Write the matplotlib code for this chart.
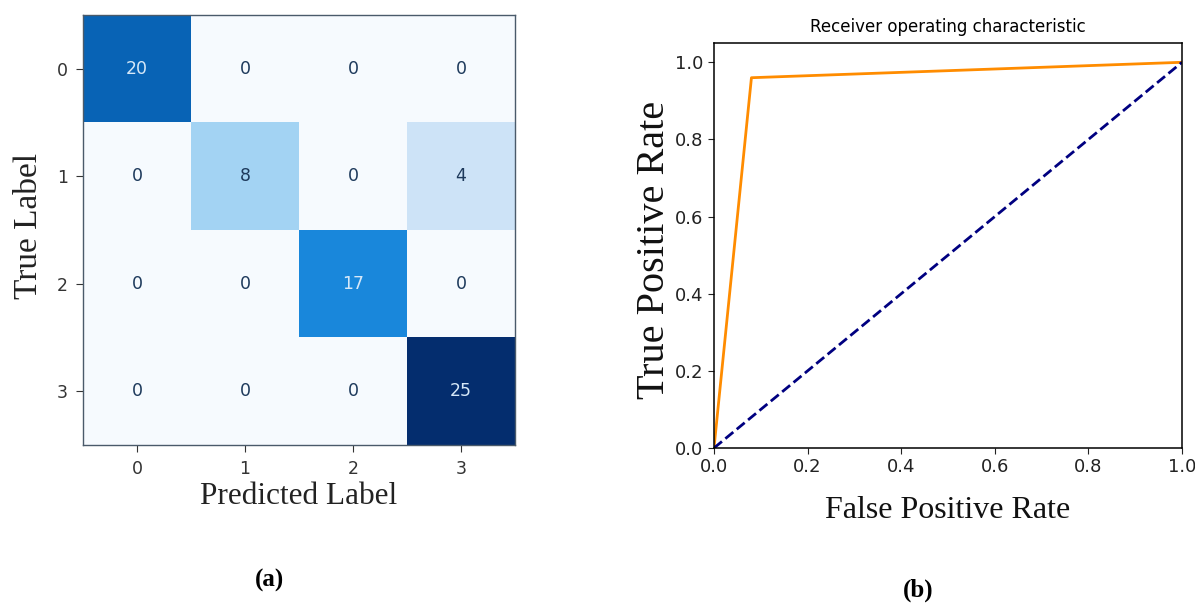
import matplotlib
matplotlib.use("Agg")
import matplotlib.pyplot as plt
import numpy as np
from matplotlib.colors import LinearSegmentedColormap

# confusion matrix (rows = true class, cols = predicted class)
class_labels = ["0", "1", "2", "3"]
conf_matrix = [
    [20, 0, 0, 0],
    [0, 8, 0, 4],
    [0, 0, 17, 0],
    [0, 0, 0, 25],
]

# ROC curve points
fpr = [0.0, 0.08, 1.0]
tpr = [0.0, 0.96, 1.0]
chance = [0.0, 1.0]
roc_ticks = [0.0, 0.2, 0.4, 0.6, 0.8, 1.0]

W, H = 1195, 605
fig = plt.figure(figsize=(W / 100, H / 100), dpi=100)
fig.patch.set_facecolor("white")


def px(x0, y0, x1, y1):
    """pixel box (left, top, right, bottom) -> figure fraction rect"""
    return [x0 / W, 1 - y1 / H, (x1 - x0) / W, (y1 - y0) / H]


SERIF = ["Liberation Serif", "DejaVu Serif"]
blues = LinearSegmentedColormap.from_list(
    "cm_blues",
    [(0.0, "#f6fafe"), (0.16, "#cde3f7"), (0.32, "#a3d3f3"),
     (0.68, "#1a88dc"), (0.80, "#0863b5"), (1.0, "#042d6e")])

# ---------------------------------------------------------------- (a)
cm = np.array(conf_matrix)
ax1 = fig.add_axes(px(83, 15, 515, 445))
ax1.imshow(cm, cmap=blues, vmin=0, vmax=cm.max(), aspect="auto",
           interpolation="nearest")
for i in range(cm.shape[0]):
    for j in range(cm.shape[1]):
        v = cm[i, j]
        col = "#d6e8f8" if v > cm.max() * 0.5 else "#1e3a5c"
        ax1.text(j, i, str(v), ha="center", va="center", fontsize=12.5, color=col)
ax1.set_xticks(range(len(class_labels)))
ax1.set_yticks(range(len(class_labels)))
ax1.set_xticklabels(class_labels)
ax1.set_yticklabels(class_labels)
ax1.tick_params(labelsize=12.5, colors="#333333", length=5, pad=6)
for s in ax1.spines.values():
    s.set_color("#4a5a6a")
    s.set_linewidth(1.0)
fig.text(299 / W, 1 - 497 / H, "Predicted Label", ha="center", va="center",
         fontsize=22.5, family=SERIF, color="#222222")
fig.text(29 / W, 1 - 226 / H, "True Label", ha="center", va="center",
         rotation=90, fontsize=24, family=SERIF, color="#222222")
fig.text(270 / W, 1 - 580 / H, "(a)", ha="center", va="center",
         fontsize=18, fontweight="bold", family=SERIF)

# ---------------------------------------------------------------- (b)
ax2 = fig.add_axes(px(714, 43, 1182, 448))
ax2.plot(fpr, tpr, color="darkorange", lw=2)
ax2.plot(chance, chance, color="navy", lw=2, linestyle="--")
ax2.set_xlim(0.0, 1.0)
ax2.set_ylim(0.0, 1.05)
ax2.set_xticks(roc_ticks)
ax2.set_yticks(roc_ticks)
ax2.tick_params(labelsize=13, colors="#222222", length=4)
for s in ax2.spines.values():
    s.set_linewidth(1.1)
ax2.set_title("Receiver operating characteristic", fontsize=12, pad=8)
fig.text(948 / W, 1 - 510 / H, "False Positive Rate", ha="center", va="center",
         fontsize=23, family=SERIF, color="#111111")
fig.text(655 / W, 1 - 250 / H, "True Positive Rate", ha="center", va="center",
         rotation=90, fontsize=29, family=SERIF, color="#111111")
fig.text(918 / W, 1 - 590 / H, "(b)", ha="center", va="center",
         fontsize=18, fontweight="bold", family=SERIF)

fig.savefig("out.png", dpi=100, facecolor="white")
